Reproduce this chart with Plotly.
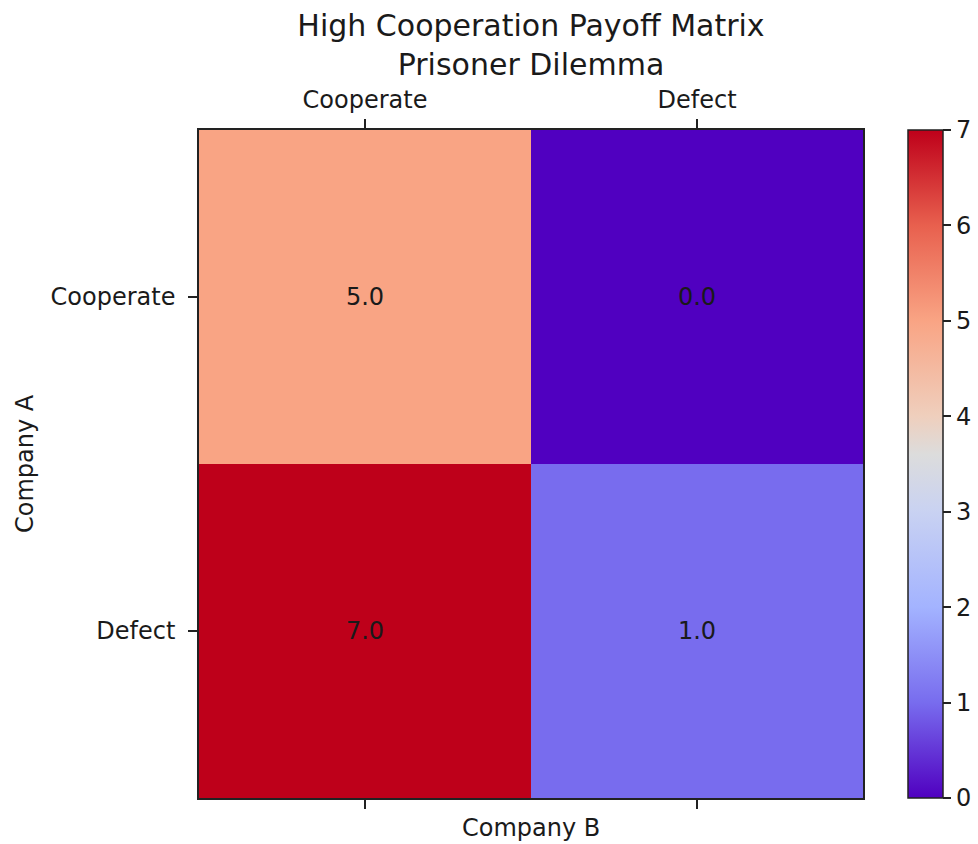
import plotly.graph_objects as go

# Data
col_labels = ["Cooperate", "Defect"]   # Company B
row_labels = ["Cooperate", "Defect"]   # Company A
payoffs = [[5.0, 0.0],
           [7.0, 1.0]]
cbar_ticks = [0, 1, 2, 3, 4, 5, 6, 7]

colorscale = [
    [0.0, "#5000c0"],
    [1/7, "#786cee"],
    [2/7, "#a3b3ff"],
    [3/7, "#c9d2f2"],
    [3.6/7, "#dcdcdc"],
    [4/7, "#efcfbd"],
    [5/7, "#f9a484"],
    [6/7, "#e8604e"],
    [1.0, "#be001a"],
]

FONT = "DejaVu Sans"
TXT = "#1a1a1a"
TICKSIZE = 24

fig = go.Figure(
    go.Heatmap(
        z=payoffs,
        x=col_labels,
        y=row_labels,
        zmin=0, zmax=7,
        colorscale=colorscale,
        texttemplate="%{z:.1f}",
        textfont=dict(family=FONT, size=TICKSIZE, color=TXT),
        hoverinfo="skip",
        colorbar=dict(
            x=(908 - 199) / 664, xanchor="left", xpad=0,
            y=0.5, yanchor="middle", len=1, lenmode="fraction", ypad=0,
            thickness=35, thicknessmode="pixels",
            outlinewidth=1.5, outlinecolor="#222",
            tickvals=cbar_ticks, ticks="outside", ticklen=8, tickwidth=1.5,
            tickcolor="#222",
            tickfont=dict(family=FONT, size=TICKSIZE, color=TXT),
        ),
    )
)

fig.update_layout(
    width=978, height=844,
    margin=dict(l=199, r=115, t=130, b=46, autoexpand=False),
    paper_bgcolor="white", plot_bgcolor="white",
    title=dict(
        text="High Cooperation Payoff Matrix<br>Prisoner Dilemma",
        x=0.5, xref="paper", xanchor="center",
        y=1 - 36 / 844, yref="container", yanchor="top",
        font=dict(family=FONT, size=30, color=TXT),
    ),
    xaxis=dict(
        side="top", range=[-0.5, 1.5], showgrid=False, zeroline=False,
        ticks="outside", ticklen=9, tickwidth=1.5, tickcolor="#222",
        ticklabelstandoff=2,
        showline=True, linecolor="#222", linewidth=1.5, mirror="ticks",
        tickfont=dict(family=FONT, size=TICKSIZE, color=TXT),
    ),
    yaxis=dict(
        range=[1.5, -0.5], showgrid=False, zeroline=False,
        ticks="outside", ticklen=9, tickwidth=1.5, tickcolor="#222",
        ticklabelstandoff=8,
        showline=True, linecolor="#222", linewidth=1.5, mirror=True,
        tickfont=dict(family=FONT, size=TICKSIZE, color=TXT),
    ),
    annotations=[
        dict(text="Company B", xref="paper", yref="paper", x=0.5, y=0,
             yshift=-30, xanchor="center", yanchor="middle", showarrow=False,
             font=dict(family=FONT, size=TICKSIZE, color=TXT)),
        dict(text="Company A", xref="paper", yref="paper", x=0, y=0.5,
             xshift=-174, xanchor="center", yanchor="middle", textangle=-90,
             showarrow=False, font=dict(family=FONT, size=TICKSIZE, color=TXT)),
    ],
)

fig.write_html("out.html", config={"displayModeBar": False},
               post_script="document.body.style.margin='0';")
